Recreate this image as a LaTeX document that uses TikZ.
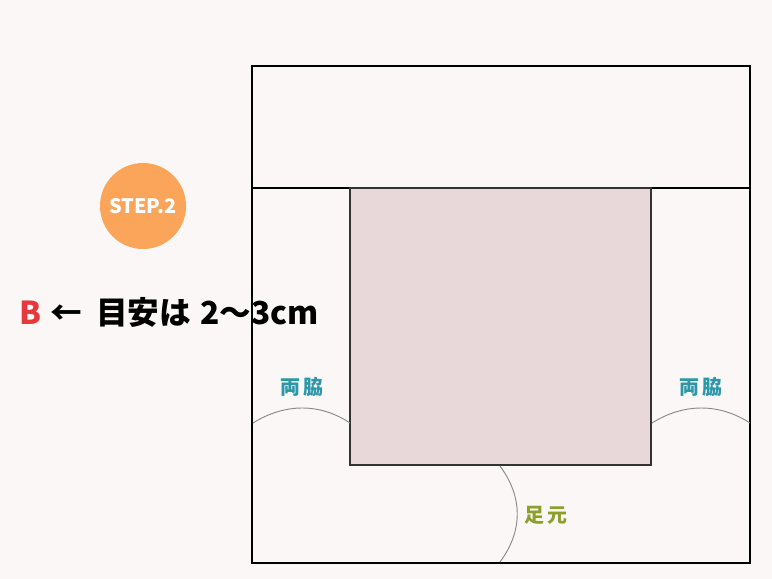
\documentclass[tikz,border=0pt]{standalone}
\usepackage{fontspec}
\usepackage{tikz}
\newfontfamily\jpfont{Noto Sans CJK JP}
\definecolor{bgcol}{HTML}{FAF7F6}
\definecolor{skirtcol}{HTML}{E8D8DA}
\definecolor{stepcol}{HTML}{FBA55A}
\definecolor{sidecol}{HTML}{2A97AA}
\definecolor{footcol}{HTML}{8C9F2C}
\definecolor{markcol}{HTML}{E5393E}
\definecolor{arccol}{HTML}{8A8A8A}
\tikzset{
  sidelabel/.style={text=sidecol, font=\jpfont\bfseries\fontsize{17}{17}\selectfont},
  arcline/.style={draw=arccol, line width=0.8pt}
}

\begin{document}
\begin{tikzpicture}[x=0.03cm, y=-0.03cm]
    \useasboundingbox[fill=bgcol] (0,0) rectangle (772,579);
    % table and seat
    \draw[line width=1.8pt] (252,66) rectangle (750,563);
    \draw[line width=1.8pt] (252,188) -- (750,188);
    \draw[fill=skirtcol, draw=black!80, line width=1.3pt] (350,188) rectangle (651,465);
    % arcs
    \draw[arcline] (253,423) .. controls (285,403) and (320,403) .. (350,423);
    \draw[arcline] (652,423) .. controls (684,403) and (719,403) .. (750,423);
    \draw[arcline] (500,466) .. controls (523,497) and (523,531) .. (500,562);
    \node[sidelabel] at (302,387) (L) {両\kern3pt 脇};
    \node[sidelabel] at (701,387) (R) {両\kern3pt 脇};
    \node[text=footcol, font=\jpfont\bfseries\fontsize{17}{17}\selectfont] at (546,515) (F) {足\kern3pt 元};
    % step mark
    \node[circle, fill=stepcol, minimum size=86*0.03cm, inner sep=0pt, text=white,
          font=\jpfont\bfseries\fontsize{17}{17}\selectfont] at (143,206) (S) {STEP.2};
    \node[anchor=west, inner sep=0pt, font=\jpfont\bfseries\fontsize{27}{27}\selectfont] at (19,312) (B)
        {\textcolor{markcol}{B}\kern8pt←\kern12pt 目安は\kern8pt 2〜3cm};
\end{tikzpicture}
\end{document}
